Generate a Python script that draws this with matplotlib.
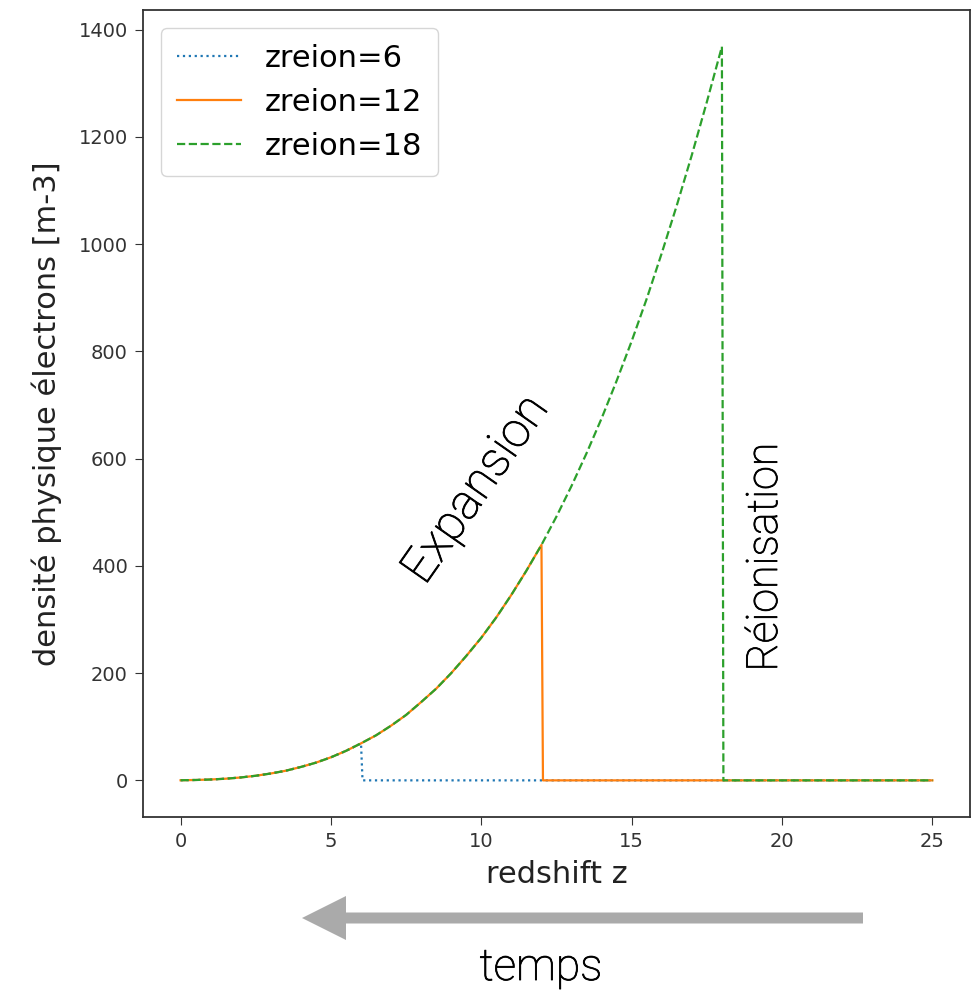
import matplotlib
matplotlib.use('Agg')
import matplotlib.pyplot as plt
import matplotlib.patheffects as pe
from matplotlib.patches import FancyArrow
from matplotlib.transforms import IdentityTransform

# electron density every half unit of redshift (m-3)
z_curve = [0, 0.5, 1, 1.5, 2, 2.5, 3, 3.5, 4, 4.5, 5, 5.5, 6, 6.5, 7, 7.5,
           8, 8.5, 9, 9.5, 10, 10.5, 11, 11.5, 12, 12.5, 13, 13.5, 14, 14.5,
           15, 15.5, 16, 16.5, 17, 17.5, 18]
n_curve = [0.2, 0.7, 1.6, 3.1, 5.4, 8.6, 12.8, 18, 25, 33, 43, 55, 69, 84,
           102, 122, 146, 171, 200, 232, 266, 304, 346, 391, 439, 492, 549,
           610, 675, 745, 819, 898, 983, 1072, 1166, 1265, 1368]
z_end = 25
zreions = [6, 12, 18]
labels = ['zreion=6', 'zreion=12', 'zreion=18']
styles = [':', '-', '--']
colors = ['#1f77b4', '#ff7f0e', '#2ca02c']

fig = plt.figure(figsize=(9.74, 9.9), dpi=100)
ax = fig.add_axes([0.1468, 0.1747, 0.8491, 0.8152])

for zr, lab, ls, c in zip(zreions, labels, styles, colors):
    zz = [z for z in z_curve if z <= zr]
    nn = n_curve[:len(zz)]
    zz = zz + [zr + 0.05, z_end]
    nn = nn + [0, 0]
    ax.plot(zz, nn, ls, color=c, lw=1.6, label=lab)

ax.set_xlim(-1.25, 26.25)
ax.set_ylim(-68.4, 1436.4)
ax.set_xticks([0, 5, 10, 15, 20, 25])
ax.set_yticks([0, 200, 400, 600, 800, 1000, 1200, 1400])
ax.tick_params(labelsize=14, length=6, pad=5, colors='#333333', labelcolor='#333333')
for s in ax.spines.values():
    s.set_color('#333333')
    s.set_linewidth(1.3)

ax.set_xlabel('redshift z', fontsize=22, color='#222222', labelpad=6)
ax.set_ylabel('densité physique électrons [m-3]', fontsize=22, color='#222222', labelpad=12)
ax.legend(loc='upper left', fontsize=22, handlelength=2.1, borderpad=0.5,
          labelspacing=0.5, borderaxespad=0.6)

# light sans, thickened a little to look like the reference's annotation font
thick = [pe.withStroke(linewidth=0.6, foreground='black')]
ax.text(9.83, 542, 'Expansion', rotation=55, ha='center', va='center',
        fontsize=35, family='Roboto', fontweight='light',
        rotation_mode='anchor', path_effects=thick)
ax.text(19.45, 416, 'Réionisation', rotation=90, ha='center', va='center',
        fontsize=31, family='Roboto', fontweight='light', path_effects=thick)

# arrow "temps" under the axis, in pixel coordinates
arr = FancyArrow(863, 990 - 918, 302 - 863, 0, width=11, head_width=44,
                 head_length=44, length_includes_head=True,
                 color='#aaaaaa', lw=0, transform=IdentityTransform())
fig.add_artist(arr)
fig.text(541 / 974, 10 / 990, 'temps', ha='center', va='baseline',
         fontsize=32, family='Roboto', fontweight='light', path_effects=thick)

fig.savefig('out.png', dpi=100)
